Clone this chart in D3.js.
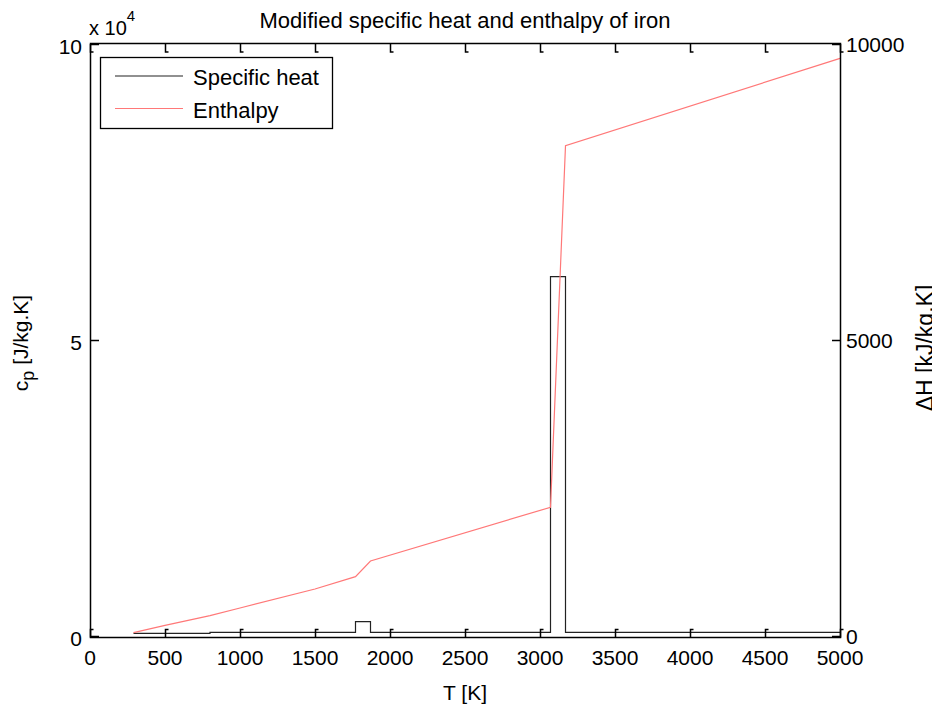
<!DOCTYPE html>
<html>
<head>
<meta charset="utf-8">
<script src="https://cdn.jsdelivr.net/npm/d3@7"></script>
<style>
  body { margin: 0; background: #fff; }
  svg text { font-family: "Liberation Sans", Arial, sans-serif; fill: #000; }
</style>
</head>
<body>
<div id="chart"></div>
<script>
// specific heat, stepwise (J/kg.K), value holds until next temperature
const cpTemps = [290, 800, 1770, 1870, 3070, 3170, 5000];
const cpValues = [456, 625, 2415, 625, 60700, 625, 625];

// enthalpy (kJ/kg)
const hTemps = [290, 500, 800, 1000, 1500, 1770, 1870, 3070, 3170, 5000];
const hValues = [56, 180, 345, 473, 794, 1002, 1267, 2174, 8282, 9758];

const xTicks = [0, 500, 1000, 1500, 2000, 2500, 3000, 3500, 4000, 4500, 5000];
const leftTicks = [0, 50000, 100000];
const rightTicks = [0, 5000, 10000];

const width = 940, height = 705;
const margin = { left: 90, right: 100, top: 44, bottom: 68 };
const plotBottom = height - margin.bottom + 0.5;   // 637.5
const plotRight = width - margin.right;

const svg = d3.select('#chart')
  .append('svg')
  .attr('width', width)
  .attr('height', height);

const x = d3.scaleLinear().domain([0, 5000]).range([margin.left, plotRight]);
const yLeft = d3.scaleLinear().domain([0, 100000]).range([636, margin.top]);
const yRight = d3.scaleLinear().domain([0, 10000]).range([636, margin.top]);

// the right label is cut by the figure edge in the original
svg.append('clipPath')
  .attr('id', 'edge-clip')
  .append('rect')
  .attr('x', 0).attr('y', 0)
  .attr('width', 932).attr('height', height);

// title
svg.append('text')
  .attr('x', (margin.left + plotRight) / 2)
  .attr('y', 28)
  .attr('text-anchor', 'middle')
  .attr('font-size', 22)
  .text('Modified specific heat and enthalpy of iron');

// data lines
const cpLine = d3.line()
  .x(d => x(d[0]))
  .y(d => yLeft(d[1]))
  .curve(d3.curveStepAfter);

svg.append('path')
  .datum(d3.zip(cpTemps, cpValues))
  .attr('d', cpLine)
  .attr('fill', 'none')
  .attr('stroke', '#222')
  .attr('stroke-width', 1.2);

const hLine = d3.line()
  .x(d => x(d[0]))
  .y(d => yRight(d[1]));

svg.append('path')
  .datum(d3.zip(hTemps, hValues))
  .attr('d', hLine)
  .attr('fill', 'none')
  .attr('stroke', '#ff7878')
  .attr('stroke-width', 1.2);

// frame
svg.append('rect')
  .attr('x', margin.left + 0.5)
  .attr('y', margin.top - 0.5)
  .attr('width', plotRight - margin.left)
  .attr('height', plotBottom - margin.top + 0.5)
  .attr('fill', 'none')
  .attr('stroke', '#000')
  .attr('stroke-width', 1.5);

// ticks, matlab style (inward, small hook)
const ticks = svg.append('g')
  .attr('fill', 'none')
  .attr('stroke', '#000')
  .attr('stroke-width', 1.5);

xTicks.forEach(t => {
  const px = Math.round(x(t)) + 0.5;
  ticks.append('path').attr('d', `M${px},${plotBottom} V${plotBottom - 8} h3`);
  ticks.append('path').attr('d', `M${px},${margin.top} V${margin.top + 8} h3`);
});
leftTicks.forEach(t => {
  const py = Math.round(yLeft(t)) + 0.5;
  ticks.append('path').attr('d', `M${margin.left},${py} H${margin.left + 9}`);
});
rightTicks.forEach(t => {
  const py = Math.round(yRight(t)) + 0.5;
  ticks.append('path').attr('d', `M${plotRight - 8},${py} H${plotRight}`);
});

// tick labels
svg.append('g').selectAll('text')
  .data(xTicks)
  .join('text')
  .attr('x', d => x(d))
  .attr('y', 665)
  .attr('text-anchor', 'middle')
  .attr('font-size', 21)
  .text(d => d);

svg.append('g').selectAll('text')
  .data(leftTicks)
  .join('text')
  .attr('x', 82)
  .attr('y', d => yLeft(d) + 10)
  .attr('text-anchor', 'end')
  .attr('font-size', 21)
  .text(d => d / 10000);

svg.append('g').selectAll('text')
  .data(rightTicks)
  .join('text')
  .attr('x', 846)
  .attr('y', d => yRight(d) + 8)
  .attr('font-size', 21)
  .text(d => d);

// exponent
const expo = svg.append('text').attr('x', 89).attr('y', 35).attr('font-size', 20);
expo.append('tspan').text('x 10');
expo.append('tspan').attr('dy', -14).attr('font-size', 15).text('4');

// axis labels
svg.append('text')
  .attr('x', (margin.left + plotRight) / 2)
  .attr('y', 700)
  .attr('text-anchor', 'middle')
  .attr('font-size', 21)
  .text('T [K]');

const cpLabel = svg.append('text')
  .attr('transform', 'translate(28,343) rotate(-90)')
  .attr('text-anchor', 'middle')
  .attr('font-size', 21);
cpLabel.append('tspan').text('c');
cpLabel.append('tspan').attr('dy', 6).attr('font-size', 18).text('p');
cpLabel.append('tspan').attr('dy', -6).text(' [J/kg.K]');

svg.append('g')
  .attr('clip-path', 'url(#edge-clip)')
  .append('text')
  .attr('transform', 'translate(933,348) rotate(-90)')
  .attr('text-anchor', 'middle')
  .attr('font-size', 23)
  .text('ΔH [kJ/kg.K]');

// legend
const legend = svg.append('g');
legend.append('rect')
  .attr('x', 100.5)
  .attr('y', 57.5)
  .attr('width', 232)
  .attr('height', 71)
  .attr('fill', '#fff')
  .attr('stroke', '#000')
  .attr('stroke-width', 1.3);

const legendItems = [
  { label: 'Specific heat', color: '#222', y: 76 },
  { label: 'Enthalpy', color: '#ff7878', y: 108.5 }
];
legendItems.forEach(item => {
  legend.append('line')
    .attr('x1', 115).attr('x2', 183)
    .attr('y1', item.y).attr('y2', item.y)
    .attr('stroke', item.color)
    .attr('stroke-width', 1.2);
  legend.append('text')
    .attr('x', 193)
    .attr('y', item.y + 9)
    .attr('font-size', 22)
    .text(item.label);
});
</script>
</body>
</html>
